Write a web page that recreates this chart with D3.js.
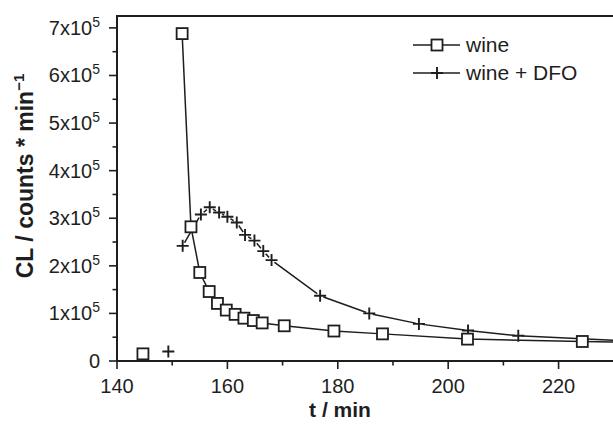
<!DOCTYPE html>
<html><head><meta charset="utf-8">
<script src="https://cdn.jsdelivr.net/npm/d3@7"></script>
<style>body{margin:0;background:#fff;}svg{display:block;font-family:Arial,"Liberation Sans",sans-serif;}</style>
</head><body>
<script>
// Data
const wineT   = [144.7, 151.8, 153.4, 155.0, 156.7, 158.2, 159.8, 161.4, 163.0, 164.7, 166.3, 170.3, 179.3, 188.1, 203.5, 224.3, 240];
const wineCL  = [15000, 688000, 282000, 186000, 146000, 121000, 107000, 98000, 90000, 85000, 80000, 74000, 63000, 57000, 46000, 41000, 38000];
const dfoT    = [149.3, 151.9, 155.2, 156.8, 158.5, 160.0, 161.7, 163.2, 164.9, 166.5, 168.0, 176.8, 185.7, 194.7, 203.6, 212.7, 240];
const dfoCL   = [20000, 242000, 308000, 323000, 312000, 303000, 291000, 265000, 253000, 231000, 212000, 137000, 100000, 78000, 64000, 53000, 38000];
const xTicks  = [140, 160, 180, 200, 220];
const xMinor  = [150, 170, 190, 210, 230];
const yTicks  = [0, 1, 2, 3, 4, 5, 6, 7];       // x10^5
const yMinor  = [0.5, 1.5, 2.5, 3.5, 4.5, 5.5, 6.5];
const legendLabels = ["wine", "wine + DFO"];

const W = 613, H = 431;
const svg = d3.select("body").append("svg").attr("width", W).attr("height", H);
const x = d3.scaleLinear().domain([140, 229.86]).range([117, 613]);
const y = d3.scaleLinear().domain([0, 725000]).range([361, 16]);
const ink = "#1e1e1e";

svg.append("defs").append("clipPath").attr("id","clip")
  .append("rect").attr("x",117).attr("y",10).attr("width",W-117).attr("height",360);

// axes
const gx = svg.append("g").attr("transform","translate(0,361)");
gx.append("line").attr("x1",116).attr("x2",W).attr("stroke",ink).attr("stroke-width",2);
gx.selectAll(".mj").data(xTicks).join("line").attr("x1",d=>x(d)).attr("x2",d=>x(d)).attr("y1",0).attr("y2",8).attr("stroke",ink).attr("stroke-width",1.6);
gx.selectAll(".mn").data(xMinor.filter(d=>x(d)<W)).join("line").attr("x1",d=>x(d)).attr("x2",d=>x(d)).attr("y1",0).attr("y2",4.5).attr("stroke",ink).attr("stroke-width",1.6);
gx.selectAll("text").data(xTicks).join("text").attr("x",d=>x(d)).attr("y",32).attr("text-anchor","middle")
  .attr("font-size",20).attr("fill",ink).text(d=>d);

const gy = svg.append("g").attr("transform","translate(117,0)");
gy.append("line").attr("y1",15).attr("y2",362).attr("stroke",ink).attr("stroke-width",2);
gy.selectAll(".mj").data(yTicks).join("line").attr("x1",-8).attr("x2",0).attr("y1",d=>y(d*1e5)).attr("y2",d=>y(d*1e5)).attr("stroke",ink).attr("stroke-width",1.6);
gy.selectAll(".mn").data(yMinor).join("line").attr("x1",-4.5).attr("x2",0).attr("y1",d=>y(d*1e5)).attr("y2",d=>y(d*1e5)).attr("stroke",ink).attr("stroke-width",1.6);
yTicks.forEach(d=>{
  const t = gy.append("text").attr("x",-17).attr("y",y(d*1e5)+7).attr("text-anchor","end").attr("font-size",20).attr("fill",ink);
  if (d===0) { t.text("0"); }
  else {
    t.append("tspan").text(d+"x10");
    t.append("tspan").attr("dy",-8).attr("font-size",14).text("5");
  }
});
// top frame
svg.append("line").attr("x1",116).attr("x2",W).attr("y1",16).attr("y2",16).attr("stroke",ink).attr("stroke-width",2);

// axis titles
svg.append("text").attr("x",340).attr("y",417).attr("text-anchor","middle").attr("font-size",21).attr("font-weight","bold").attr("fill",ink).text("t / min");
const yt = svg.append("text").attr("transform","translate(33,176) rotate(-90)").attr("text-anchor","middle").attr("font-size",23).attr("font-weight","bold").attr("fill",ink);
yt.append("tspan").text("CL / counts * min");
yt.append("tspan").attr("dy",-9).attr("font-size",15).text("\u22121");

// series
const plot = svg.append("g").attr("clip-path","url(#clip)");
const line = d3.line().x(d=>x(d[0])).y(d=>y(d[1]));
const wine = wineT.map((t,i)=>[t,wineCL[i]]);
const dfo  = dfoT.map((t,i)=>[t,dfoCL[i]]);
plot.append("path").datum(dfo.slice(1)).attr("d",line).attr("fill","none").attr("stroke",ink).attr("stroke-width",1.5);
plot.append("path").datum(wine.slice(1)).attr("d",line).attr("fill","none").attr("stroke",ink).attr("stroke-width",1.5);

function plus(g, cx, cy){
  g.append("circle").attr("cx",cx).attr("cy",cy).attr("r",3.5).attr("fill","#fff");
  g.append("path").attr("d",`M${cx-6},${cy}H${cx+6}M${cx},${cy-6}V${cy+6}`).attr("stroke",ink).attr("stroke-width",1.9).attr("fill","none");
}
function square(g, cx, cy){
  g.append("rect").attr("x",cx-5.5).attr("y",cy-5.5).attr("width",11).attr("height",11).attr("fill","#fff").attr("stroke",ink).attr("stroke-width",1.8);
}
dfo.forEach(d=>plus(plot, x(d[0]), y(d[1])));
wine.forEach(d=>square(plot, x(d[0]), y(d[1])));

// legend
const lg = svg.append("g");
[0,1].forEach(i=>{
  const ly = 45 + i*28;
  lg.append("line").attr("x1",413).attr("x2",460).attr("y1",ly).attr("y2",ly).attr("stroke",ink).attr("stroke-width",1.5);
  if (i===0) square(lg, 437, ly); else plus(lg, 437, ly);
  lg.append("text").attr("x",466).attr("y",ly+7).attr("font-size",21).attr("fill",ink).text(legendLabels[i]);
});
</script>
</body></html>
